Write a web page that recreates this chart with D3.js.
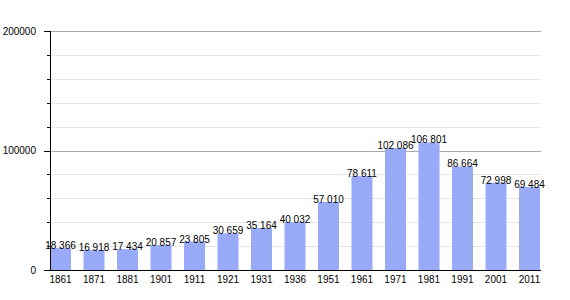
<!DOCTYPE html>
<html><head><meta charset="utf-8">
<script src="https://cdn.jsdelivr.net/npm/d3@7"></script>
<style>body{margin:0;background:#fff}svg{display:block}text{font-family:"Liberation Sans",Arial,sans-serif}</style>
</head><body>
<svg id="c" width="570" height="300"></svg>
<script>
const years = ["1861","1871","1881","1901","1911","1921","1931","1936","1951","1961","1971","1981","1991","2001","2011"];
const population = [18366,16918,17434,20857,23805,30659,35164,40032,57010,78611,102086,106801,86664,72998,69484];
const majorTicks = [0,100000,200000];
const minorTicks = [20000,40000,60000,80000,120000,140000,160000,180000];

const svg = d3.select("#c");
const x = d3.scaleBand().domain(years).range([50,540]).paddingInner(0.373).paddingOuter(0);
const y = d3.scaleLinear().domain([0,200000]).range([270,31]);
const fmt = v => d3.format(",")(v).replace(/,/g," ");

// minor grid
svg.append("g").selectAll("line").data(minorTicks).join("line")
  .attr("x1",50).attr("x2",541).attr("y1",d=>Math.round(y(d))+0.5).attr("y2",d=>Math.round(y(d))+0.5)
  .attr("stroke","#e6e6e6").attr("stroke-width",1);
svg.append("g").selectAll("line").data(majorTicks.filter(d=>d>0)).join("line")
  .attr("x1",50).attr("x2",541).attr("y1",d=>Math.round(y(d))+0.5).attr("y2",d=>Math.round(y(d))+0.5)
  .attr("stroke","#aaaaaa").attr("stroke-width",1);

// bars
svg.append("g").selectAll("rect").data(population).join("rect")
  .attr("x",(d,i)=>x(years[i])).attr("width",x.bandwidth())
  .attr("y",d=>y(d)).attr("height",d=>270-y(d))
  .attr("fill","#99aaf8");

// value labels
svg.append("g").selectAll("text").data(population).join("text")
  .attr("x",(d,i)=>x(years[i])+x.bandwidth()/2).attr("y",d=>y(d)+1)
  .attr("text-anchor","middle").attr("font-size",10).attr("fill","#000")
  .style("white-space","pre")
  .text(d=>fmt(d));

// y axis
const yAxis = svg.append("g");
yAxis.append("line").attr("x1",50.5).attr("x2",50.5).attr("y1",31).attr("y2",270).attr("stroke","#000");
yAxis.selectAll("line.mj").data(majorTicks).join("line").attr("class","mj")
  .attr("x1",44).attr("x2",50).attr("y1",d=>Math.round(y(d))+0.5).attr("y2",d=>Math.round(y(d))+0.5).attr("stroke","#000");
yAxis.selectAll("line.mn").data(minorTicks).join("line").attr("class","mn")
  .attr("x1",47).attr("x2",50).attr("y1",d=>Math.round(y(d))+0.5).attr("y2",d=>Math.round(y(d))+0.5).attr("stroke","#000");
yAxis.selectAll("text").data(majorTicks).join("text")
  .attr("x",36).attr("y",d=>y(d)+3.5).attr("text-anchor","end").attr("font-size",10).text(d=>d);

// x axis
svg.append("line").attr("x1",45).attr("x2",541).attr("y1",270.5).attr("y2",270.5).attr("stroke","#000");
svg.append("g").selectAll("text").data(years).join("text")
  .attr("x",d=>x(d)+x.bandwidth()/2).attr("y",283).attr("text-anchor","middle").attr("font-size",10).text(d=>d);
</script>
</body></html>
